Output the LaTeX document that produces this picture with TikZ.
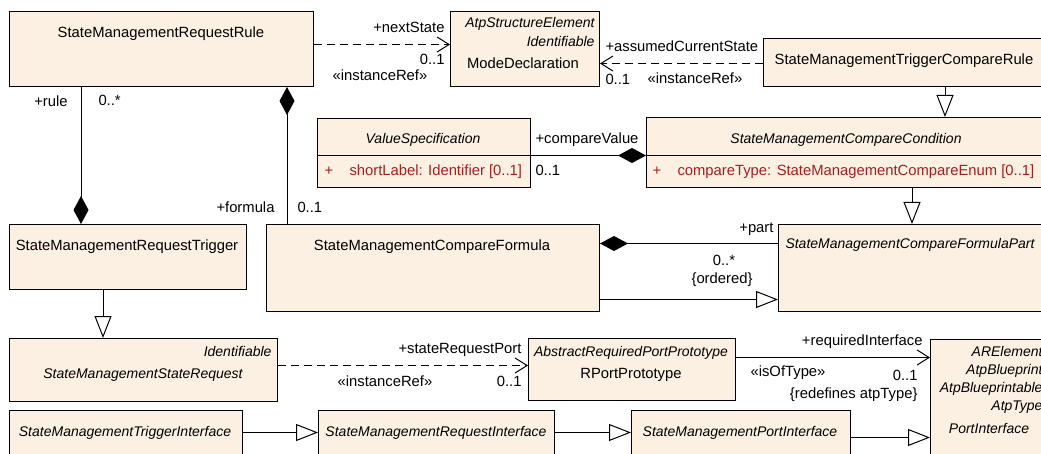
\documentclass[tikz,border=0pt]{standalone}
\usepackage{fontspec}
\setmainfont{Liberation Sans}
\usetikzlibrary{arrows.meta}
\definecolor{classfill}{RGB}{251,240,226}
\definecolor{attrred}{RGB}{165,30,30}

\begin{document}
\begin{tikzpicture}[
      x=1pt, y=-1pt,
      line width=1pt,
      every node/.style={font=\fontsize{14.8}{17}\selectfont, inner sep=0pt},
      box/.style={draw, fill=classfill, anchor=north west},
      lbl/.style={text height=10.5pt, text depth=3pt},
      it/.style={lbl, font=\fontsize{14}{17}\selectfont\itshape},
      attr/.style={lbl, text=attrred},
      gen/.style={-{Triangle[open, length=22pt, width=17pt, fill=white]}},
      comp/.style={{Diamond[length=28pt, width=15pt]}-},
      nav/.style={-{Straight Barb[length=12pt, width=15pt]}},
      iref/.style={nav, dash pattern=on 8pt off 5pt}
    ]
    \useasboundingbox (0,0) rectangle (1041,454);
    \clip (0,0) rectangle (1041,454);

    % classes
    \node[box, minimum width=304pt, minimum height=75pt] (rule) at (9,11) {};
    \node[box, minimum width=149pt, minimum height=75pt] (mode) at (450,11) {};
    \node[box, minimum width=282pt, minimum height=48pt] (tcrule) at (763,38) {};
    \node[box, minimum width=213pt, minimum height=69pt] (valspec) at (317,118) {};
    \node[box, minimum width=400pt, minimum height=70pt] (cond) at (646,117) {};
    \node[box, minimum width=237pt, minimum height=65pt] (trigger) at (9,224) {};
    \node[box, minimum width=333pt, minimum height=87pt] (formula) at (266,224) {};
    \node[box, minimum width=274pt, minimum height=87pt] (part) at (778,224) {};
    \node[box, minimum width=268pt, minimum height=63pt] (streq) at (9,338) {};
    \node[box, minimum width=207pt, minimum height=62pt] (rport) at (528,338) {};
    \node[box, minimum width=118pt, minimum height=141pt] (pif) at (930,339) {};
    \node[box, minimum width=233pt, minimum height=70pt] (trigif) at (9,410) {};
    \node[box, minimum width=236pt, minimum height=70pt] (reqif) at (318,410) {};
    \node[box, minimum width=219pt, minimum height=70pt] (smpif) at (631,410) {};

    % attribute compartments
    \draw ([yshift=-38pt]valspec.north west) -- ([yshift=-38pt]valspec.north east);
    \draw ([yshift=-39pt]cond.north west) -- ([yshift=-39pt]cond.north east);

    % class texts
    \node[lbl] (rulename) at (161,34) {StateManagementRequestRule};
    \node[it, anchor=east] (modest1) at (595,24) {AtpStructureElement};
    \node[it, anchor=east] (modest2) at (595,43) {Identifiable};
    \node[lbl] (modename) at (523,65) {ModeDeclaration};
    \node[lbl] (tcrulename) at (904,61) {StateManagementTriggerCompareRule};
    \node[it] (valspecname) at (423,140) {ValueSpecification};
    \node[attr] (valspecplus) at (329,172) {+};
    \node[attr, anchor=west] (valspecattr) at (349,172) {shortLabel: Identifier [0..1]};
    \node[it] (condname) at (846,140) {StateManagementCompareCondition};
    \node[attr] (condplus) at (657,172) {+};
    \node[attr, anchor=west] (condattr) at (677,172) {compareType: StateManagementCompareEnum [0..1]};
    \node[lbl] (triggername) at (127,247) {StateManagementRequestTrigger};
    \node[lbl] (formulaname) at (432,247) {StateManagementCompareFormula};
    \node[it, anchor=west] (partname) at (785,245) {StateManagementCompareFormulaPart};
    \node[it, anchor=east] (streqst) at (272,353) {Identifiable};
    \node[it] (streqname) at (143,375) {StateManagementStateRequest};
    \node[it] (rportst) at (631,353) {AbstractRequiredPortPrototype};
    \node[lbl] (rportname) at (631,375) {RPortPrototype};
    \node[it, anchor=east] (pifst1) at (1043,353) {ARElement};
    \node[it, anchor=east] (pifst2) at (1043,371) {AtpBlueprint};
    \node[it, anchor=east] (pifst3) at (1043,389) {AtpBlueprintable};
    \node[it, anchor=east] (pifst4) at (1043,407) {AtpType};
    \node[it] (pifname) at (989,430) {PortInterface};
    \node[it] (trigifname) at (125,433) {StateManagementTriggerInterface};
    \node[it] (reqifname) at (436,433) {StateManagementRequestInterface};
    \node[it] (smpifname) at (740,433) {StateManagementPortInterface};

    % connectors
    \draw[iref] ([yshift=4.5pt]rule.east) -- ([yshift=4.5pt]rule.east -| mode.west);
    \draw[iref] ([yshift=-1pt]tcrule.west) -- ([yshift=-1pt]tcrule.west -| mode.east);
    \draw[comp] ([xshift=72pt]trigger.north west) -- ([xshift=72pt]rule.south west);
    \draw[comp] ([xshift=278pt]rule.south west) -- ([xshift=278pt]rule.south west |- formula.north);
    \draw[comp] ([yshift=-3pt]cond.west) -- ([yshift=-3pt]cond.west -| valspec.east);
    \draw[comp] ([yshift=24.5pt]formula.east) -- ([yshift=24.5pt]formula.east -| part.west);
    \draw[gen] ([yshift=-31.5pt]formula.east) -- ([yshift=-31.5pt]formula.east -| part.west);
    \draw[gen] ([xshift=182pt]tcrule.south west) -- ([xshift=182pt]tcrule.south west |- cond.north);
    \draw[gen] ([xshift=266pt]cond.south west) -- ([xshift=266pt]cond.south west |- part.north);
    \draw[gen] ([xshift=94pt]trigger.south west) -- ([xshift=94pt]trigger.south west |- streq.north);
    \draw[iref] ([yshift=4.5pt]streq.east) -- ([yshift=4.5pt]streq.east -| rport.west);
    \draw[nav] ([yshift=12pt]rport.east) -- ([yshift=12pt]rport.east -| pif.west);
    \draw[gen] ([yshift=13pt]trigif.east) -- ([yshift=13pt]trigif.east -| reqif.west);
    \draw[gen] ([yshift=13pt]reqif.east) -- ([yshift=13pt]reqif.east -| smpif.west);
    \draw[gen] ([yshift=8pt]smpif.east) -- ([yshift=8pt]smpif.east -| pif.west);

    % connector labels
    \node[lbl, anchor=east] (nextrole) at (445,29) {+nextState};
    \node[lbl, anchor=east] (nextmult) at (445,61) {0..1};
    \node[lbl] (nextster) at (380,77) {«instanceRef»};
    \node[lbl, anchor=west] (currole) at (605,48) {+assumedCurrentState};
    \node[lbl, anchor=west] (curmult) at (605,81) {0..1};
    \node[lbl] (curster) at (695,80) {«instanceRef»};
    \node[lbl] (rulerole) at (51,103) {+rule};
    \node[lbl, anchor=west] (rulemult) at (98,102) {0..*};
    \node[lbl, anchor=east] (formrole) at (275,209) {+formula};
    \node[lbl, anchor=west] (formmult) at (297,209) {0..1};
    \node[lbl, anchor=west] (valrole) at (535,140) {+compareValue};
    \node[lbl, anchor=west] (valmult) at (535,172) {0..1};
    \node[lbl, anchor=east] (partrole) at (774,229) {+part};
    \node[lbl] (partmult) at (724,262) {0..*};
    \node[lbl] (partord) at (722,280) {\{ordered\}};
    \node[lbl, anchor=east] (portrole) at (522,350) {+stateRequestPort};
    \node[lbl] (portster) at (385,383) {«instanceRef»};
    \node[lbl, anchor=east] (portmult) at (522,383) {0..1};
    \node[lbl, anchor=east] (ifrole) at (923,342) {+requiredInterface};
    \node[lbl] (ifster) at (788,373) {«isOfType»};
    \node[lbl, anchor=east] (ifmult) at (918,377) {0..1};
    \node[lbl, anchor=east] (ifredef) at (918,395) {\{redefines atpType\}};
  \end{tikzpicture}
\end{document}
